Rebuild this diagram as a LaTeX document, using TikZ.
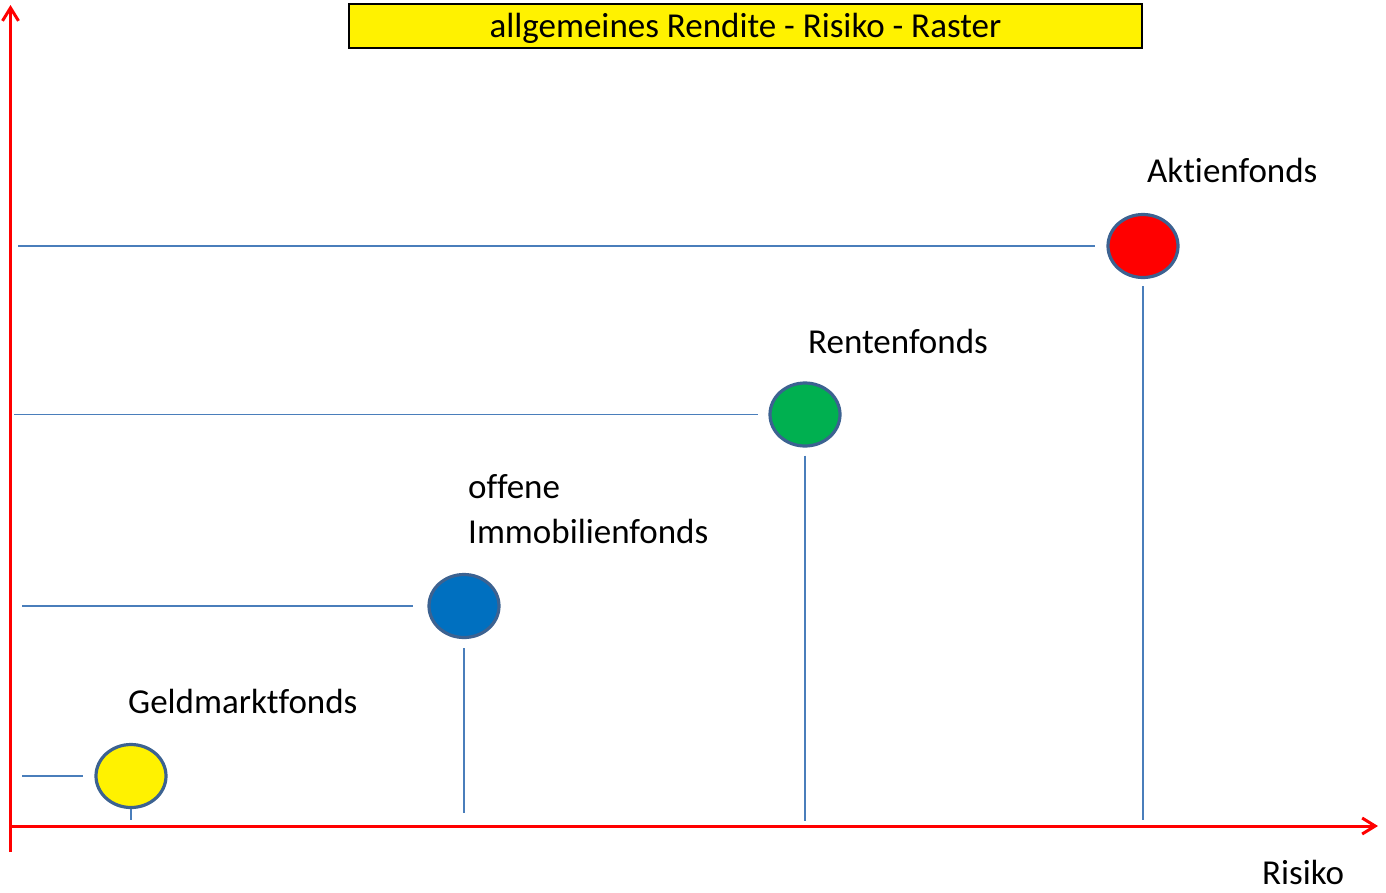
\documentclass[tikz,border=0pt]{standalone}
\usepackage{fontspec}
\setmainfont{Carlito}[Ligatures=NoCommon]
\usetikzlibrary{arrows.meta,shapes.geometric}
\definecolor{rimblue}{RGB}{60,98,145}
\definecolor{lineblue}{RGB}{74,126,187}
\definecolor{fundgreen}{RGB}{0,176,80}
\definecolor{fundblue}{RGB}{0,112,192}
\tikzset{
	fund/.style={ellipse, draw=rimblue, line width=3.2pt, minimum width=70pt, minimum height=63pt, inner sep=0pt},
	conn/.style={draw=lineblue, line width=1.5pt},
	axis/.style={draw=red, line width=3pt, -{Straight Barb[length=13pt,width=16pt,line width=3pt]}},
	lbl/.style={anchor=base west, inner sep=0pt, font=\fontsize{35}{45}\selectfont}
}

\begin{document}
\begin{tikzpicture}[x=1pt, y=-1pt]
			%%%%% START %%%%%
			\useasboundingbox (0, 0) rectangle (1386, 892);
			
			% axes
			\coordinate (yB) at (10.5, 852);
			\coordinate (yT) at (10.5, 5);
			\coordinate (xL) at (9, 826);
			\coordinate (xR) at (1378, 826);
			\draw[axis] (yB) -- (yT);
			\draw[axis] (xL) -- (xR);
			
			% title
			\node[draw=black, line width=1.5pt, fill=yellow, minimum width=793pt, minimum height=44pt, inner sep=0pt, text height=30pt, text depth=8pt, font=\fontsize{35}{40}\selectfont] (title) at (745.5, 26) {allgemeines Rendite - Risiko - Raster};
			
			% funds
			\node[fund, fill=yellow] (gld) at (131, 776) {};
			\node[fund, fill=fundblue] (imm) at (464, 606) {};
			\node[fund, fill=fundgreen] (rnt) at (805, 414.5) {};
			\node[fund, fill=red] (akt) at (1143, 246) {};
			
			\node[lbl] (gldT) at (128, 713) {Geldmarktfonds};
			\node[lbl, align=left] (immT) at (468, 543) {offene\\Immobilienfonds};
			\node[lbl] (rntT) at (808, 353) {Rentenfonds};
			\node[lbl] (aktT) at (1147, 182) {Aktienfonds};
			\node[lbl] (risT) at (1262, 884) {Risiko};
			
			% connectors
			\coordinate (gldL) at (22, 776);
			\coordinate (immL) at (22, 606);
			\coordinate (rntL) at (14, 414.5);
			\coordinate (aktL) at (18, 246);
			\coordinate (gldB) at (131, 820);
			\coordinate (immB) at (464, 813);
			\coordinate (rntB) at (805, 821);
			\coordinate (aktB) at (1143, 820);
			
			\draw[conn, shorten >=11pt] (gldL) -- (gld);
			\draw[conn, shorten >=14pt] (immL) -- (imm);
			\draw[conn, shorten >=10pt] (rntL) -- (rnt);
			\draw[conn, shorten >=11pt] (aktL) -- (akt);
			
			\draw[conn] (gld) -- (gldB);
			\draw[conn, shorten <=9pt] (imm) -- (immB);
			\draw[conn, shorten <=8pt] (rnt) -- (rntB);
			\draw[conn, shorten <=7pt] (akt) -- (aktB);
			%%%%% END %%%%%
\end{tikzpicture}
\end{document}
